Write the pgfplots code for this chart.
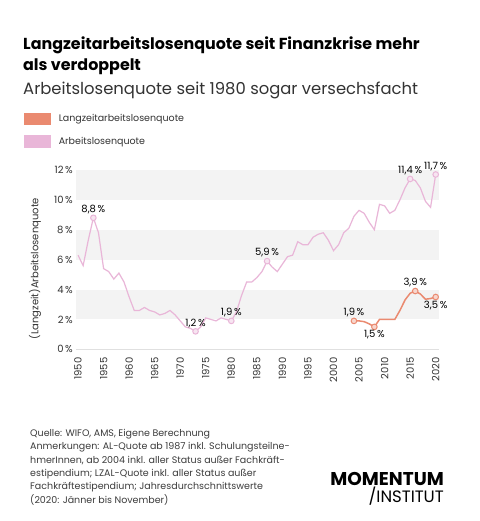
\documentclass[border=0pt]{standalone}
\usepackage{fontspec}
\setmainfont{Poppins}
\usepackage{pgfplots}
\pgfplotsset{compat=1.18}
\definecolor{alcol}{HTML}{E9B6D8}
\definecolor{lzcol}{HTML}{EA8A70}
\definecolor{band}{HTML}{F3F3F3}
\definecolor{txt}{HTML}{333333}
\definecolor{foot}{HTML}{3C3C3C}
\begin{document}
\begin{tikzpicture}[x=1bp,y=1bp]
\useasboundingbox (0,0) rectangle (480,521);
\fill[white] (0,0) rectangle (480,521);
% titles
\node[anchor=base west, inner sep=0pt, font=\fontsize{15.9bp}{18bp}\selectfont\bfseries] at (23,471.7) {Langzeitarbeitslosenquote seit Finanzkrise mehr};
\node[anchor=base west, inner sep=0pt, font=\fontsize{15.9bp}{18bp}\selectfont\bfseries] at (23,450) {als verdoppelt};
\node[anchor=base west, inner sep=0pt, text=txt, font=\fontsize{16.4bp}{19bp}\selectfont] at (23,426) {Arbeitslosenquote seit 1980 sogar versechsfacht};
% footer
\begin{scope}[every node/.style={anchor=base west, inner sep=0pt, text=foot, font=\fontsize{9.5bp}{11bp}\selectfont}]
\node at (30,84.3) {Quelle: WIFO, AMS, Eigene Berechnung};
\node at (30,71) {Anmerkungen: AL-Quote ab 1987 inkl. Schulungsteilne-};
\node at (30,57.7) {hmerInnen, ab 2004 inkl. aller Status außer Fachkräft-};
\node at (30,44.4) {estipendium; LZAL-Quote inkl. aller Status außer};
\node at (30,31) {Fachkräftestipendium; Jahresdurchschnittswerte};
\node at (30,17.7) {(2020: Jänner bis November)};
\end{scope}
% logo
\node[anchor=base east, inner sep=0pt, font=\fontsize{18.5bp}{20bp}\selectfont\bfseries] at (444,35.5) {MOMENTUM};
\node[anchor=base east, inner sep=0pt, font=\fontsize{16.5bp}{18bp}\selectfont] at (444,18.5) {/INSTITUT};

\begin{axis}[
  at={(76bp,171.7bp)}, anchor=south west,
  scale only axis, width=363bp, height=179.3bp,
  xmin=1949.6, xmax=2020.65, ymin=0, ymax=12,
  clip=false,
  axis line style={draw=none},
  major tick length=0pt,
  xtick={1950,1955,...,2020},
  ytick={0,2,...,12},
  /pgf/number format/.cd, use comma, 1000 sep={}, assume math mode=true, /pgfplots/.cd,
  yticklabel={\pgfmathprintnumber{\tick}\,\%},
  ticklabel style={font=\fontsize{10bp}{12bp}\selectfont, text=txt},
  xticklabel style={rotate=90, anchor=east, inner sep=0pt},
  yticklabel style={inner sep=0pt},
  xticklabel shift=8bp,
  yticklabel shift=3bp,
  ylabel={(Langzeit)Arbeitslosenquote},
  ylabel style={at={(axis description cs:-0.113,0.45)}, anchor=center, font=\fontsize{10bp}{12bp}\selectfont, text=txt},
  legend style={at={(axis description cs:-0.143,1.32)}, anchor=north west, draw=none, fill=none, inner sep=0pt, nodes={inner sep=0pt}, column sep=8bp, row sep=10bp, font=\fontsize{9.5bp}{11bp}\selectfont, text=txt},
  legend cell align=left,
  legend image code/.code={\fill[#1] (0bp,-5.5bp) rectangle (25bp,5.5bp);},
  reverse legend,
  nodes near coords style={font=\fontsize{10bp}{12bp}\selectfont, text=black},
]
\fill[band] (axis cs:1949.6,2) rectangle (axis cs:2020.65,4);
\fill[band] (axis cs:1949.6,6) rectangle (axis cs:2020.65,8);
\fill[band] (axis cs:1949.6,10) rectangle (axis cs:2020.65,12);
\draw[black!12, line width=0.8bp] (axis cs:1949.6,0) -- (axis cs:2020.65,0);

\addplot[alcol, line width=1.2bp, no marks] coordinates {
(1950,6.3) (1951,5.6) (1952,7.3) (1953,8.8) (1954,7.8) (1955,5.4) (1956,5.2) (1957,4.7) (1958,5.1) (1959,4.5)
(1960,3.5) (1961,2.6) (1962,2.6) (1963,2.8) (1964,2.6) (1965,2.5) (1966,2.3) (1967,2.4) (1968,2.6) (1969,2.3)
(1970,1.9) (1971,1.5) (1972,1.4) (1973,1.2) (1974,1.5) (1975,2.1) (1976,2.0) (1977,1.9) (1978,2.1) (1979,2.0)
(1980,1.9) (1981,2.5) (1982,3.6) (1983,4.5) (1984,4.5) (1985,4.8) (1986,5.2) (1987,5.9) (1988,5.5) (1989,5.2)
(1990,5.7) (1991,6.2) (1992,6.3) (1993,7.2) (1994,7.0) (1995,7.0) (1996,7.5) (1997,7.7) (1998,7.8) (1999,7.3)
(2000,6.6) (2001,7.0) (2002,7.8) (2003,8.1) (2004,8.9) (2005,9.3) (2006,9.1) (2007,8.5) (2008,8.0) (2009,9.7)
(2010,9.6) (2011,9.1) (2012,9.3) (2013,10.0) (2014,10.8) (2015,11.4) (2016,11.3) (2017,10.8) (2018,9.9) (2019,9.5)
(2020,11.7)
};
\addlegendentry{Arbeitslosenquote}
\addplot[lzcol, line width=1.5bp, no marks] coordinates {
(2004,1.9) (2005,1.9) (2006,1.85) (2007,1.7) (2008,1.5) (2009,2.0) (2010,2.0) (2011,2.0) (2012,2.0)
(2013,2.6) (2014,3.3) (2015,3.75) (2016,3.9) (2017,3.7) (2018,3.35) (2019,3.4) (2020,3.5)
};
\addlegendentry{Langzeitarbeitslosenquote}

% markers with labels
\addplot[forget plot, only marks, mark=*, mark size=2.8bp, mark options={draw=alcol, fill=alcol!35!white, line width=1bp},
  nodes near coords, point meta=explicit symbolic,
  every node near coord/.append style={anchor=south}] coordinates {
(1953,8.8) [8,8\,\%] (1973,1.2) [1,2\,\%] (1980,1.9) [1,9\,\%] (1987,5.9) [5,9\,\%] (2015,11.4) [11,4\,\%] (2020,11.7) [11,7\,\%]
};
\addplot[forget plot, only marks, mark=*, mark size=2.8bp, mark options={draw=lzcol, fill=lzcol!35!white, line width=1bp},
  nodes near coords, point meta=explicit symbolic,
  every node near coord/.append style={anchor=south}] coordinates {
(2004,1.9) [1,9\,\%] (2016,3.9) [3,9\,\%]
};
\addplot[forget plot, only marks, mark=*, mark size=2.8bp, mark options={draw=lzcol, fill=lzcol!35!white, line width=1bp},
  nodes near coords, point meta=explicit symbolic,
  every node near coord/.append style={anchor=north}] coordinates {
(2008,1.5) [1,5\,\%] (2020,3.5) [3,5\,\%]
};
\end{axis}
\end{tikzpicture}
\end{document}
